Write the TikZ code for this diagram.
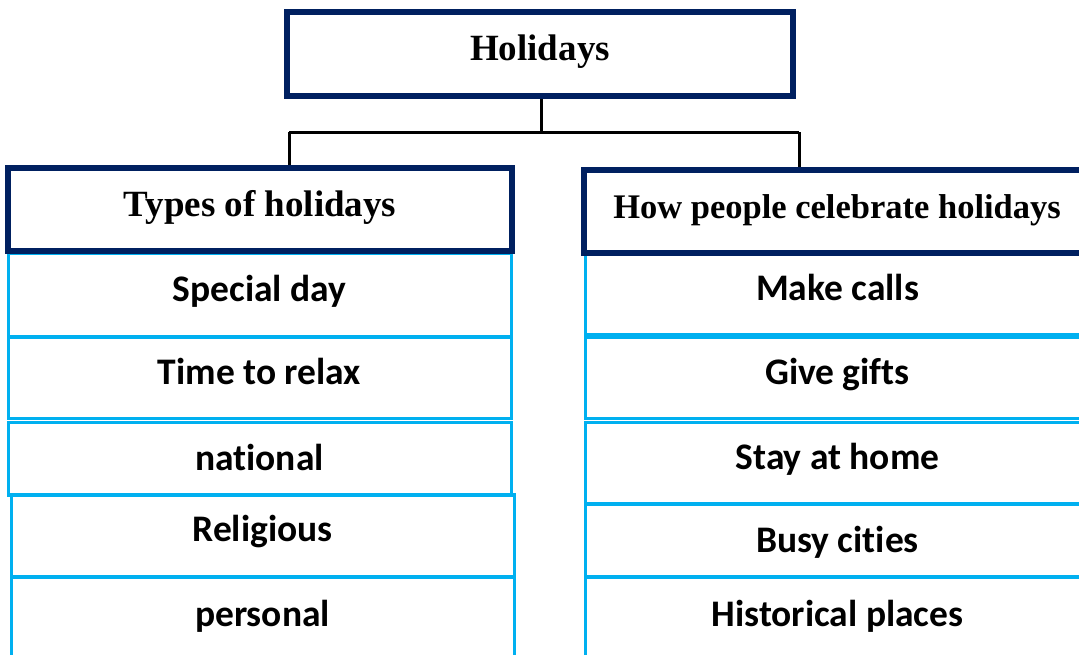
\documentclass[tikz,border=0pt]{standalone}
\usepackage{fontspec}
\setmainfont{Liberation Serif}
\newfontfamily\calibri[Ligatures=NoCommon]{Carlito}
\definecolor{navy}{HTML}{002060}
\definecolor{skyline}{HTML}{00B0F0}
\tikzset{
  head/.style={draw=navy, line width=5.5pt, minimum width=504pt, minimum height=83pt,
    inner sep=0pt, text height=25pt, text depth=12pt,
    font=\bfseries\fontsize{37}{40}\selectfont},
  item/.style={draw=skyline, line width=3pt, minimum width=503pt,
    inner sep=0pt, text height=26pt, text depth=13pt,
    font=\calibri\bfseries\fontsize{37.5}{40}\selectfont},
  short/.style={text depth=2pt},
  link/.style={line width=3pt}
}
\begin{document}
\begin{tikzpicture}[x=1pt,y=-1pt]
   \useasboundingbox (0,0) rectangle (1079,654);

   % left column
   \node[item, minimum height=83pt] (sp) at (259.5,294.5) {Special day};
   \node[item, minimum height=81pt] (tr) at (259.5,377.5) {Time to relax};
   \node[item, short, minimum height=73pt] (na) at (259.5,458.5) {national};
   \node[item, minimum height=82pt] (re) at (262.5,535) {Religious};
   \node[item, minimum height=85pt] (pe) at (262.5,619.5) {personal};

   % right column
   \node[item, minimum width=505pt, minimum height=81pt] (mc) at (837.5,293.5) {Make calls};
   \node[item, minimum width=505pt, minimum height=81pt] (gg) at (837.5,377.5) {Give gifts};
   \node[item, minimum width=505pt, minimum height=81pt] (sh) at (837.5,462.5) {Stay at home};
   \node[item, short, minimum width=505pt, minimum height=72pt] (bc) at (837.5,540) {Busy cities};
   \node[item, minimum width=505pt, minimum height=85pt] (hp) at (837.5,619.5) {Historical places};

   \node[head, minimum width=506pt, minimum height=84pt] (top) at (540,54) {Holidays};
   \node[head] (typ) at (260,209.5) {Types of holidays};
   \node[head, minimum width=506pt, font=\bfseries\fontsize{34.5}{38}\selectfont] (how) at (837,211.5) {How people celebrate holidays};

   \coordinate (fork) at (541,132);
   \coordinate (jl) at (289,132);
   \coordinate (jr) at (799,132);
   \draw[link] (top.south -| fork) -- (fork);
   \draw[link] (jl) -- (jr);
   \draw[link] (jl) -- (jl |- typ.north);
   \draw[link] (jr) -- (jr |- how.north);

\end{tikzpicture}
\end{document}
